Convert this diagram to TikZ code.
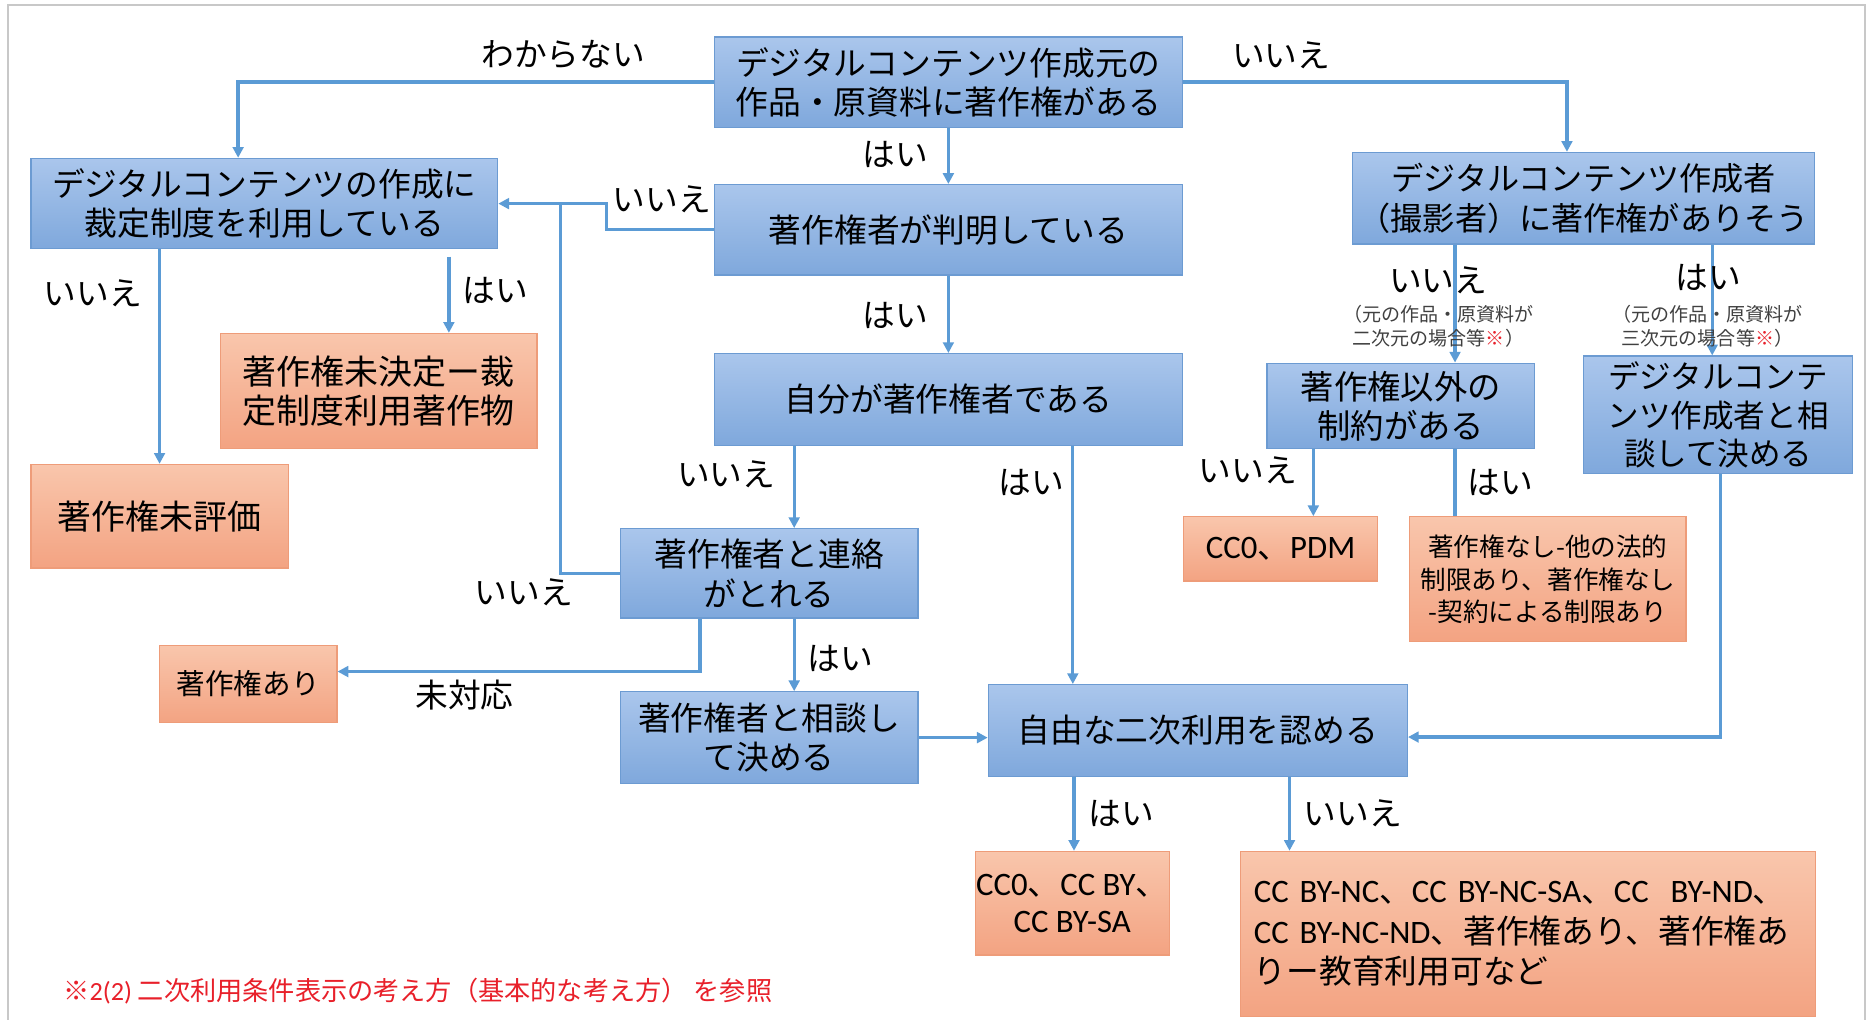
\documentclass[tikz,border=0pt]{standalone}
\usepackage{fontspec}
\setmainfont{Noto Sans CJK JP}
\newfontfamily\lat{Carlito}
\usetikzlibrary{arrows.meta}
\definecolor{btop}{HTML}{AAC6EC}
\definecolor{bbot}{HTML}{7FA8DC}
\definecolor{bdr}{HTML}{6C9BD2}
\definecolor{otop}{HTML}{F9C6AC}
\definecolor{obot}{HTML}{F3A382}
\definecolor{odr}{HTML}{EE9C79}
\definecolor{acol}{HTML}{5B9BD5}
\definecolor{ngray}{HTML}{404040}
\definecolor{fred}{HTML}{E8202A}
\definecolor{framecol}{HTML}{C8C8C8}
\tikzset{
  bluebox/.style={draw=bdr, line width=1pt, top color=btop, bottom color=bbot, align=center, inner sep=0pt, text=black, font=\fontsize{27.5}{33}\selectfont},
  orgbox/.style={draw=odr, line width=1pt, top color=otop, bottom color=obot, align=center, inner sep=0pt, text=black, font=\fontsize{27.5}{33}\selectfont},
  arr/.style={draw=acol, line width=2.8pt, -{Triangle[length=9pt,width=9pt]}},
  ln/.style={draw=acol, line width=2.8pt},
  lbl/.style={inner sep=0pt, text=black, font=\fontsize{27.5}{33}\selectfont},
  note/.style={inner sep=0pt, align=center, text=ngray, font=\fontsize{16}{19.5}\selectfont},
}
\begin{document}
\begin{tikzpicture}[x=1pt,y=-1pt]
\useasboundingbox (0,0) rectangle (1568,856);
\draw[framecol, line width=1.5pt] (7,880) -- (7,4) -- (1566,4) -- (1566,880);

% boxes
\node[bluebox, minimum width=393pt, minimum height=76pt] (b1) at (796.5,69) {デジタルコンテンツ作成元の\\作品・原資料に著作権がある};
\node[bluebox, minimum width=392pt, minimum height=76pt] (b2) at (222,171) {デジタルコンテンツの作成に\\裁定制度を利用している};
\node[bluebox, minimum width=393pt, minimum height=76pt] (b3) at (796.5,193) {著作権者が判明している};
\node[bluebox, minimum width=388pt, minimum height=77pt, font=\fontsize{27}{33}\selectfont] (b4) at (1330,166.5) {デジタルコンテンツ作成者\\（撮影者）に著作権がありそう};
\node[orgbox, minimum width=266pt, minimum height=97pt, font=\fontsize{28.5}{33}\selectfont] (b5) at (318,328.5) {著作権未決定ー裁\\定制度利用著作物};
\node[bluebox, minimum width=393pt, minimum height=77pt] (b6) at (796.5,335.5) {自分が著作権者である};
\node[bluebox, minimum width=225pt, minimum height=72pt, font=\fontsize{28}{33}\selectfont] (b7) at (1176.5,341) {著作権以外の\\制約がある};
\node[bluebox, minimum width=226pt, minimum height=99pt, font=\fontsize{26.5}{32.5}\selectfont] (b8) at (1443,348.5) {デジタルコンテ\\ンツ作成者と相\\談して決める};
\node[orgbox, minimum width=216pt, minimum height=87pt, font=\fontsize{28.5}{33}\selectfont] (b9) at (134,433.5) {著作権未評価};
\node[bluebox, minimum width=250pt, minimum height=75pt] (b10) at (646,481.5) {著作権者と連絡\\がとれる};
\node[orgbox, minimum width=163pt, minimum height=54pt] (b11) at (1075.5,461) {{\lat CC0}、{\lat PDM}};
\node[orgbox, minimum width=232pt, minimum height=105pt, font=\fontsize{21.5}{27.5}\selectfont] (b12) at (1300,486.5) {著作権なし-他の法的\\制限あり、著作権なし\\-契約による制限あり};
\node[orgbox, minimum width=149pt, minimum height=65pt, font=\fontsize{24}{30}\selectfont] (b13) at (208.5,574.5) {著作権あり};
\node[bluebox, minimum width=250pt, minimum height=77pt] (b14) at (646,619.5) {著作権者と相談し\\て決める};
\node[bluebox, minimum width=352pt, minimum height=77pt] (b15) at (1006,613.5) {自由な二次利用を認める};
\node[orgbox, minimum width=163pt, minimum height=87pt, font=\fontsize{27.5}{31}\selectfont] (b16) at (900.5,758.5) {{\lat CC0}、{\lat CC BY}、\\{\lat CC BY-SA}};
\node[orgbox, minimum width=483pt, minimum height=139pt, text width=461pt, align=left, font=\fontsize{27.5}{34}\selectfont] (b17) at (1283.5,784.5) {{\lat CC BY-NC}、{\lat CC BY-NC-SA}、{\lat CC\ \ BY-ND}、\\{\lat CC BY-NC-ND}、著作権あり、著作権あ\\りー教育利用可など};

% connectors
\draw[arr] (b1.west) -| ([xshift=-22pt]b2.north);
\draw[arr] (b1.east) -| ([xshift=-14pt]b4.north);
\draw[arr] (b1.south) -- (b3.north);
\draw[arr] (b3.west) -- ([xshift=-90pt]b3.west) |- (b2.east);
\draw[arr] (b3.south) -- (b6.north);
\draw[arr] ([xshift=-129.5pt]b6.south) -- ([xshift=21pt]b10.north);
\draw[arr] ([xshift=104.5pt]b6.south) -- ([xshift=-105pt]b15.north);
\draw[ln] (b10.west) -- ([xshift=-50pt]b10.west) |- ([xshift=53pt]b2.east);
\draw[arr] ([xshift=-58pt]b10.south) |- ([yshift=10.5pt]b13.east);
\draw[arr] ([xshift=21pt]b10.south) -- ([xshift=21pt]b14.north);
\draw[arr] (b14.east) -- (b14.east -| b15.west);
\draw[arr] ([xshift=-88pt]b2.south) -- (b9.north);
\draw[arr] ([xshift=155pt,yshift=-6pt]b2.south) -- ([xshift=59pt]b5.north);
\draw[arr] ([xshift=-108pt]b4.south) -- ([xshift=45.5pt]b7.north);
\draw[arr] ([xshift=108pt]b4.south) -- ([xshift=-5pt]b8.north);
\draw[arr] ([xshift=-73.5pt]b7.south) -- ([xshift=27.5pt]b11.north);
\draw[ln] ([xshift=45.5pt]b7.south) -- ([xshift=-78pt]b12.north);
\draw[arr] ([xshift=2pt]b8.south) |- ([yshift=-5.5pt]b15.east);
\draw[arr] ([xshift=-104pt]b15.south) -- ([xshift=1.5pt]b16.north);
\draw[arr] ([xshift=77pt]b15.south) -- ([xshift=-200.5pt]b17.north);

% labels
\node[lbl] (l1) at (473,46) {わからない};
\node[lbl] (l2) at (1076,46) {いいえ};
\node[lbl] (l3) at (752,130) {はい};
\node[lbl] (l4) at (556,167) {いいえ};
\node[lbl] (l5) at (752,265) {はい};
\node[lbl] (l6) at (610,398) {いいえ};
\node[lbl] (l7) at (866,405) {はい};
\node[lbl] (l8) at (440,497) {いいえ};
\node[lbl] (l9) at (390,584) {未対応};
\node[lbl] (l10) at (706,553) {はい};
\node[lbl] (l11) at (78,246) {いいえ};
\node[lbl] (l12) at (416,244) {はい};
\node[lbl] (l13) at (1208,235) {いいえ};
\node[note] (n1) at (1208,274) {（元の作品・原資料が\\二次元の場合等\textcolor{fred}{※}）};
\node[lbl] (l14) at (1435,233) {はい};
\node[note] (n2) at (1434,274) {（元の作品・原資料が\\三次元の場合等\textcolor{fred}{※}）};
\node[lbl] (l15) at (1048,395) {いいえ};
\node[lbl] (l16) at (1260,405) {はい};
\node[lbl] (l17) at (942,683) {はい};
\node[lbl] (l18) at (1136,683) {いいえ};

% footnote
\node[anchor=west, inner sep=0pt, text=fred, font=\fontsize{22}{26}\selectfont] (fn) at (53,832) {※{\lat 2(2)} 二次利用条件表示の考え方（基本的な考え方） を参照};
\end{tikzpicture}
\end{document}
